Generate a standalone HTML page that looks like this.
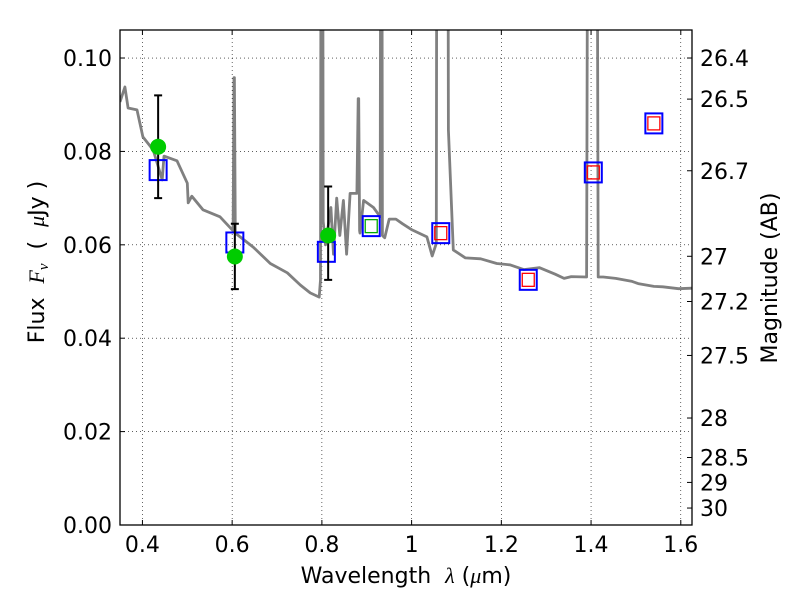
<!DOCTYPE html>
<html><head><meta charset="utf-8"><style>
body{margin:0;background:#fff}
svg text{font-family:"DejaVu Sans","Liberation Sans",sans-serif;fill:#000;white-space:pre}
</style></head><body>
<svg id="c" width="800" height="600"></svg>
<script>
const specL=[0.35,0.361,0.368,0.388,0.401,0.424,0.444,0.448,0.477,0.50,0.502,0.51,0.535,0.573,0.602,0.604,0.605,0.607,0.647,0.685,0.723,0.752,0.774,0.794,0.797,0.799,0.801,0.803,0.808,0.82,0.826,0.833,0.84,0.848,0.855,0.863,0.878,0.881,0.882,0.884,0.885,0.893,0.915,0.93,0.932,0.933,0.935,0.94,0.95,0.965,0.98,1.001,1.034,1.046,1.055,1.057,1.08,1.082,1.093,1.12,1.154,1.19,1.22,1.25,1.285,1.32,1.34,1.356,1.39,1.394,1.412,1.416,1.427,1.455,1.49,1.505,1.54,1.56,1.595,1.625];
const specF=[0.0906,0.0938,0.0893,0.0889,0.0831,0.0803,0.0739,0.079,0.078,0.0732,0.069,0.0704,0.0675,0.066,0.063,0.0958,0.0958,0.0625,0.0595,0.056,0.054,0.0514,0.0497,0.0488,0.0525,0.2,0.2,0.065,0.060,0.068,0.058,0.070,0.062,0.0695,0.058,0.071,0.071,0.0913,0.0913,0.063,0.0625,0.0695,0.068,0.066,0.2,0.2,0.062,0.0615,0.0655,0.0655,0.0645,0.0632,0.0617,0.0576,0.0603,0.2,0.2,0.0846,0.0589,0.0572,0.057,0.056,0.0557,0.0547,0.0551,0.0537,0.0528,0.0532,0.0531,0.2,0.2,0.0531,0.0531,0.0528,0.0522,0.0517,0.0511,0.051,0.0506,0.0507];
const obsL=[0.435,0.606,0.814];
const obsF=[0.081,0.0575,0.062];
const obsLo=[0.070,0.0505,0.0525];
const obsHi=[0.092,0.0645,0.0725];
const modL=[0.435,0.606,0.81,0.91,1.065,1.26,1.405,1.54];
const modF=[0.076,0.0605,0.0585,0.064,0.0625,0.0525,0.0755,0.086];
const innerColor=['none','none','none','#0a0','red','red','red','red'];
const xTicks=[0.4,0.6,0.8,1.0,1.2,1.4,1.6];
const xTickLabels=['0.4','0.6','0.8','1','1.2','1.4','1.6'];
const yTicks=[0,0.02,0.04,0.06,0.08,0.10];
const yTickLabels=['0.00','0.02','0.04','0.06','0.08','0.10'];
const magTicks=[26.4,26.5,26.7,27,27.2,27.5,28,28.5,29,30];
const magLabels=['26.4','26.5','26.7','27','27.2','27.5','28','28.5','29','30'];

const L=120,R=692,T=30,B=525,X0=0.35,X1=1.625,Y1=0.106;
const sx=v=>L+(v-X0)/(X1-X0)*(R-L);
const sy=v=>B-v/Y1*(B-T);
const NS='http://www.w3.org/2000/svg';
const svg=document.getElementById('c');
function mk(tag,a,parent){const e=document.createElementNS(NS,tag);for(const k in a)e.setAttribute(k,a[k]);(parent||svg).appendChild(e);return e;}
const defs=mk('defs',{});const cp=mk('clipPath',{id:'clip'},defs);mk('rect',{x:L,y:T,width:R-L,height:B-T},cp);
xTicks.forEach((v,i)=>{
 const g=mk('line',{x1:sx(v),x2:sx(v),y1:T,y2:B,stroke:'#000','stroke-width':0.6,'stroke-dasharray':'1,3'});
 
 
 mk('line',{x1:sx(v),x2:sx(v),y1:B,y2:B-5,stroke:'#000'});
 mk('line',{x1:sx(v),x2:sx(v),y1:T,y2:T+5,stroke:'#000'});
 const t=mk('text',{x:sx(v),y:B+27,'text-anchor':'middle','font-size':22});t.textContent=xTickLabels[i];
 
 
});
yTicks.forEach((v,i)=>{
 if(v>0){const g=mk('line',{x1:L,x2:R,y1:sy(v),y2:sy(v),stroke:'#000','stroke-width':0.6,'stroke-dasharray':'1,3'});
 
 }
 mk('line',{x1:L,x2:L+5,y1:sy(v),y2:sy(v),stroke:'#000'});
 const t=mk('text',{x:L-8,y:sy(v)+8,'text-anchor':'end','font-size':22});t.textContent=yTickLabels[i];
 
 
});
magTicks.forEach((m,i)=>{
 const f=Math.pow(10,(23.9-m)/2.5);
 mk('line',{x1:R,x2:R-5,y1:sy(f),y2:sy(f),stroke:'#000'});
 const t=mk('text',{x:R+8,y:sy(f)+8,'font-size':22});t.textContent=magLabels[i];
 
 
});
const d=specL.map((l,i)=>(i?'L':'M')+sx(l).toFixed(1)+','+sy(specF[i]).toFixed(1)).join('');
const sp=mk('path',{d:d,fill:'none',stroke:'#808080','stroke-width':2.8,'clip-path':'url(#clip)','stroke-linejoin':'round'});


modL.forEach((l,i)=>{
 const x=sx(l),y=sy(modF[i]);
 const s=mk('rect',{x:x-8.5,y:y-10,width:17,height:20,fill:'none',stroke:'#00f','stroke-width':2});
 
 
 if(innerColor[i]!=='none'){const r=mk('rect',{x:x-6,y:y-6.5,width:12,height:13,fill:'none',stroke:innerColor[i],'stroke-width':1.3});
 
 }
});
obsL.forEach((l,i)=>{
 const x=sx(l);
 const e=mk('path',{d:`M${x},${sy(obsLo[i])}V${sy(obsHi[i])}M${x-4},${sy(obsLo[i])}h8M${x-4},${sy(obsHi[i])}h8`,stroke:'#000','stroke-width':2,fill:'none'});
 
 
 const c=mk('circle',{cx:x,cy:sy(obsF[i]),r:8,fill:'#0c0'});
 
 
});
const fr=mk('rect',{x:L,y:T,width:R-L,height:B-T,fill:'none',stroke:'#000','stroke-width':1.3});


const xl=mk('text',{x:406,y:583,'text-anchor':'middle','font-size':22});
xl.innerHTML='Wavelength  <tspan font-style="italic" font-family="Liberation Serif">λ</tspan> (<tspan font-style="italic" font-family="Liberation Serif">μ</tspan>m)';


const yl=mk('text',{x:44,y:262,'text-anchor':'middle','font-size':22,transform:'rotate(-90 44 262)'});
yl.innerHTML='Flux  <tspan font-style="italic" font-family="Liberation Serif">F<tspan font-size="15" dy="4">ν</tspan></tspan><tspan dy="-4">  (  </tspan><tspan font-style="italic" font-family="Liberation Serif">μ</tspan>Jy )';


const ml=mk('text',{x:777,y:278,'text-anchor':'middle','font-size':22,transform:'rotate(-90 777 278)'});
ml.textContent='Magnitude (AB)';


</script>
</body></html>
